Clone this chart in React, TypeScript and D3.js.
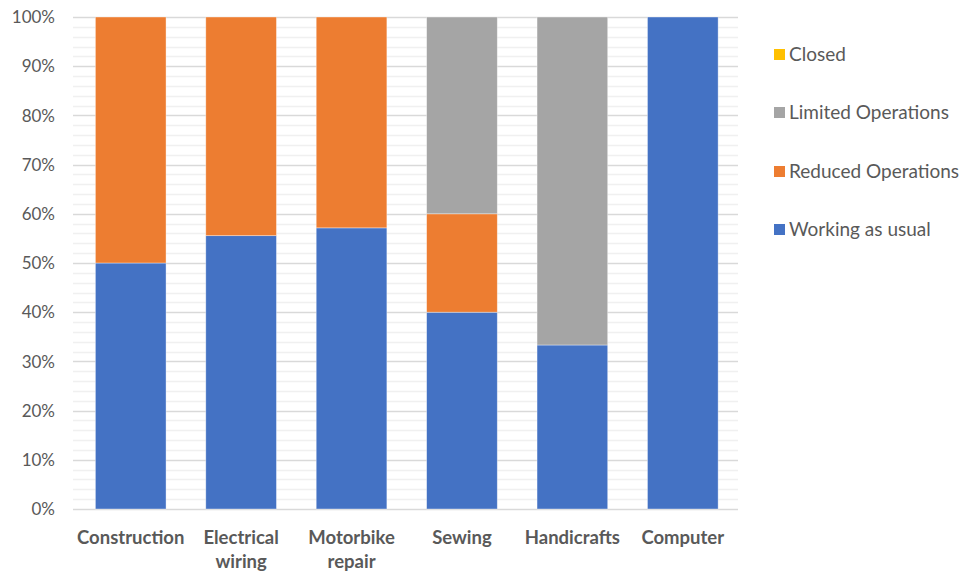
import React from "react";
import * as d3 from "d3";

const categories = ["Construction", "Electrical wiring", "Motorbike repair", "Sewing", "Handicrafts", "Computer"];
const categoryLines = [["Construction"], ["Electrical", "wiring"], ["Motorbike", "repair"], ["Sewing"], ["Handicrafts"], ["Computer"]];

const workingAsUsual = [0.5, 5 / 9, 4 / 7, 0.4, 1 / 3, 1];
const reducedOperations = [0.5, 4 / 9, 3 / 7, 0.2, 0, 0];
const limitedOperations = [0, 0, 0, 0.4, 2 / 3, 0];
const closed = [0, 0, 0, 0, 0, 0];

const seriesNames = ["Working as usual", "Reduced Operations", "Limited Operations", "Closed"];
const seriesColors = ["#4472C4", "#ED7D31", "#A5A5A5", "#FFC000"];
const yTicks = [0, 0.1, 0.2, 0.3, 0.4, 0.5, 0.6, 0.7, 0.8, 0.9, 1];

const W = 964;
const H = 575;
const left = 73;
const right = 738;
const top = 17;
const bottom = 509;
const FONT = "Lato, 'Open Sans', sans-serif";
const TEXT = "#595959";

export default function App() {
  const rows = categories.map((c, i) => ({
    cat: c,
    [seriesNames[0]]: workingAsUsual[i],
    [seriesNames[1]]: reducedOperations[i],
    [seriesNames[2]]: limitedOperations[i],
    [seriesNames[3]]: closed[i],
  }));
  const stacked = d3.stack<any>().keys(seriesNames)(rows);

  const x = d3.scaleBand<string>().domain(categories).range([left + 2.5, right]).paddingInner(0.36).paddingOuter(0.18);
  const y = d3.scaleLinear().domain([0, 1]).range([bottom, top]);
  const minorTicks = d3.range(0, 1.0001, 0.02).filter((v) => Math.round(v * 100) % 10 !== 0);
  const fmt = d3.format(".0%");

  const legendOrder = [3, 2, 1, 0];
  const legendY = [54, 112, 171, 229];

  return (
    <svg width={W} height={H} style={{ position: "absolute", left: 0, top: 0, background: "#fff" }} fontFamily={FONT}>
      <rect width={W} height={H} fill="#fff" />
      {minorTicks.map((t) => (
        <line key={"m" + t} x1={left} x2={right} y1={Math.round(y(t)) + 0.5} y2={Math.round(y(t)) + 0.5} stroke="#F0F0F0" strokeWidth={1.5} />
      ))}
      {yTicks.map((t) => (
        <line key={"g" + t} x1={left} x2={right} y1={Math.round(y(t)) + 0.5} y2={Math.round(y(t)) + 0.5} stroke="#D9D9D9" strokeWidth={1.5} />
      ))}
      {stacked.map((s, si) => (
        <g key={s.key} fill={seriesColors[si]}>
          {s.map((d, i) =>
            d[1] - d[0] > 0 ? (
              <rect
                key={i}
                x={x(categories[i])}
                width={x.bandwidth()}
                y={y(d[1])}
                height={y(d[0]) - y(d[1])}
                stroke="#ffffff"
                strokeOpacity={0.5}
                strokeWidth={0.75}
              />
            ) : null
          )}
        </g>
      ))}
      {yTicks.map((t) => (
        <text key={"t" + t} x={55} y={y(t)} dy="0.36em" textAnchor="end" fontSize={17} fill={TEXT}>
          {fmt(t)}
        </text>
      ))}
      {categoryLines.map((lines, i) => (
        <text key={"c" + i} textAnchor="middle" fontSize={18.5} fontWeight="bold" fill={TEXT}>
          {lines.map((ln, li) => (
            <tspan key={li} x={(x(categories[i]) as number) + x.bandwidth() / 2} y={544 + li * 24}>
              {ln}
            </tspan>
          ))}
        </text>
      ))}
      {legendOrder.map((si, k) => (
        <g key={"l" + si} transform={`translate(774,${legendY[k]})`}>
          <rect x={0} y={-5} width={11} height={11} fill={seriesColors[si]} />
          <text x={15} y={0} dy="0.36em" fontSize={19} fill={TEXT}>
            {seriesNames[si]}
          </text>
        </g>
      ))}
    </svg>
  );
}
